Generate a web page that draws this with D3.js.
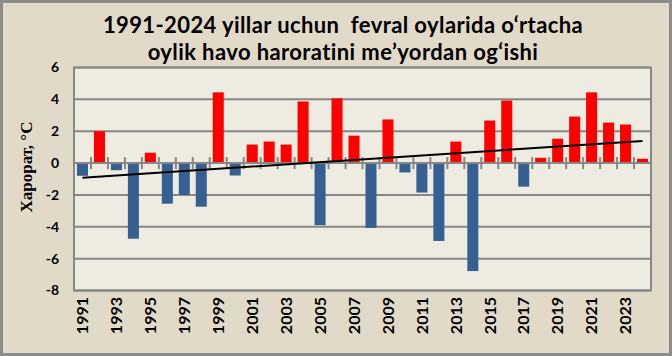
<!DOCTYPE html>
<html><head><meta charset="utf-8">
<script src="https://cdn.jsdelivr.net/npm/d3@7"></script>
<style>html,body{margin:0;padding:0;background:#fff}svg{display:block}</style>
</head><body>
<svg id="c" width="672" height="356"></svg>
<script>
const years = d3.range(1991, 2025).map(String);
const values = [-0.8, 2.0, -0.45, -4.75, 0.65, -2.55, -2.0, -2.74, 4.44, -0.78,
  1.16, 1.35, 1.16, 3.87, -3.9, 4.06, 1.72, -4.07, 2.74, -0.59,
  -1.85, -4.89, 1.35, -6.78, 2.67, 3.93, -1.48, 0.33, 1.53, 2.92,
  4.44, 2.54, 2.42, 0.27];
const yTicks = [6, 4, 2, 0, -2, -4, -6, -8];
const xLabels = years.filter((d, i) => i % 2 === 0);
const titleLines = ["1991-2024 yillar uchun  fevral oylarida o\u2018rtacha", "oylik havo haroratini me\u2019yordan og\u2018ishi"];
const yTitle = "Харорат, °С";

const svg = d3.select("#c");
const W = 672, H = 356;
const L = 74, R = 651, T = 67.5, B = 290.5;

svg.append("rect").attr("x", 1.5).attr("y", 1.5).attr("width", W - 3).attr("height", H - 3)
  .attr("fill", "#E2DAC8").attr("stroke", "#8C8C8C").attr("stroke-width", 3);

const x = d3.scaleBand().domain(years).range([L, R]).paddingInner(0.35).paddingOuter(0.175);
const y = d3.scaleLinear().domain([-8, 6]).range([B, T]);

svg.append("rect").attr("x", L).attr("y", T).attr("width", R - L).attr("height", B - T)
  .attr("fill", "#EEEBE0");

// grid
svg.append("g").selectAll("line").data(yTicks).join("line")
  .attr("x1", L).attr("x2", R).attr("y1", d => y(d)).attr("y2", d => y(d))
  .attr("stroke", "#878787").attr("stroke-width", 2);
svg.append("rect").attr("x", L).attr("y", T).attr("width", R - L).attr("height", B - T)
  .attr("fill", "none").attr("stroke", "#878787").attr("stroke-width", 2);

// bars
svg.append("g").selectAll("rect").data(values).join("rect")
  .attr("x", (d, i) => x(years[i]))
  .attr("width", x.bandwidth())
  .attr("y", d => y(Math.max(0, d)))
  .attr("height", d => Math.abs(y(d) - y(0)))
  .attr("fill", d => d >= 0 ? "#FF0000" : "#376092");

// category ticks
const step = x.step();
svg.append("g").selectAll("line").data(d3.range(years.length + 1)).join("line")
  .attr("x1", i => L + i * step).attr("x2", i => L + i * step)
  .attr("y1", y(0) - 6).attr("y2", y(0) + 6)
  .attr("stroke", "#878787").attr("stroke-width", 2);
svg.append("line").attr("x1", L).attr("x2", R).attr("y1", y(0)).attr("y2", y(0))
  .attr("stroke", "#878787").attr("stroke-width", 2);

// trend line (least squares)
const n = values.length;
const idx = d3.range(n);
const mx = d3.mean(idx), my = d3.mean(values);
const slope = d3.sum(idx, i => (i - mx) * (values[i] - my)) / d3.sum(idx, i => (i - mx) ** 2);
const icpt = my - slope * mx;
const cx = i => x(years[i]) + x.bandwidth() / 2;
svg.append("line")
  .attr("x1", cx(0)).attr("y1", y(icpt))
  .attr("x2", cx(n - 1)).attr("y2", y(icpt + slope * (n - 1)))
  .attr("stroke", "#000").attr("stroke-width", 2);

// y tick labels
svg.append("g").selectAll("text").data(yTicks).join("text")
  .attr("x", 59).attr("y", d => y(d)).attr("dy", "0.35em")
  .attr("text-anchor", "end")
  .attr("font-family", "Lato").attr("font-weight", "bold").attr("font-size", 14)
  .attr("fill", "#000").text(d => d);

// x labels
svg.append("g").selectAll("text").data(xLabels).join("text")
  .attr("transform", d => `translate(${x(d) + x.bandwidth() / 2},297) rotate(-90)`)
  .attr("dy", "0.36em").attr("text-anchor", "end")
  .attr("font-family", "Lato").attr("font-weight", "bold").attr("font-size", 16)
  .attr("fill", "#000").text(d => d);

// y title
svg.append("text").attr("transform", "translate(26,167) rotate(-90)")
  .attr("dy", "0.35em").attr("text-anchor", "middle")
  .attr("font-family", "Liberation Serif").attr("font-weight", "bold").attr("font-size", 17)
  .attr("fill", "#000").text(yTitle);

// title
svg.append("g").selectAll("text").data(titleLines).join("text")
  .attr("x", 343).attr("y", (d, i) => 33 + i * 27)
  .attr("text-anchor", "middle")
  .attr("font-family", "Lato").attr("font-weight", "bold").attr("font-size", 22)
  .attr("letter-spacing", 0.4)
  .attr("fill", "#000").style("white-space", "pre").text(d => d);
</script>
</body></html>
